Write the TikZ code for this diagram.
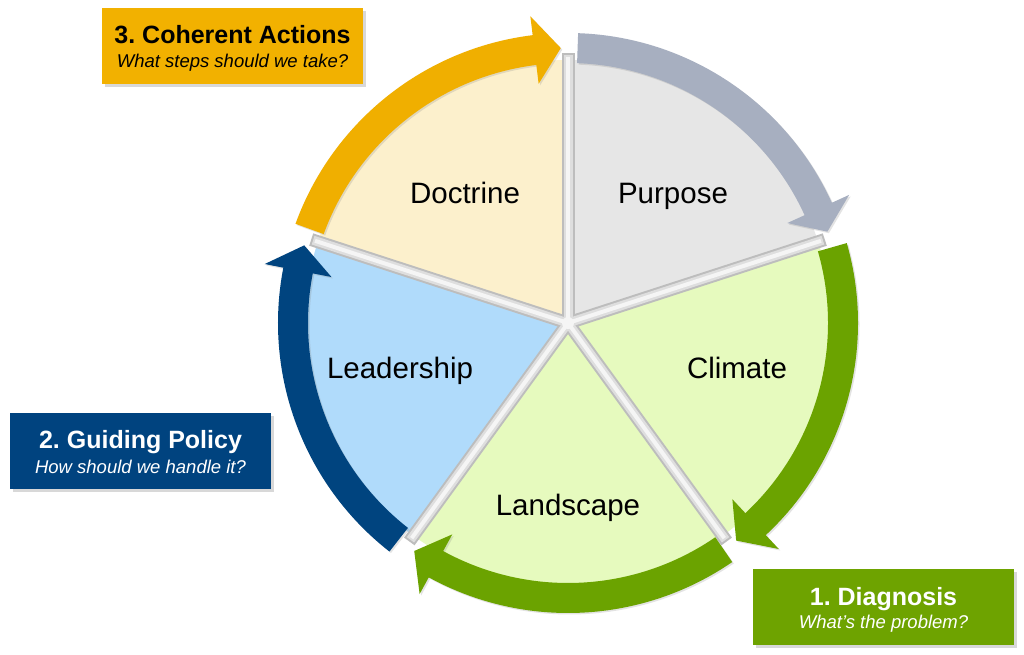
\documentclass[tikz,border=0pt]{standalone}
\usepackage{fontspec}
\setmainfont{Liberation Sans}
\usetikzlibrary{shadows}
\frenchspacing
\definecolor{doctfill}{HTML}{FCF0CC}
\definecolor{purpfill}{HTML}{E6E6E6}
\definecolor{greenfill}{HTML}{E6FABE}
\definecolor{bluefill}{HTML}{B0DBFB}
\definecolor{arcorange}{HTML}{F0AF00}
\definecolor{arcgray}{HTML}{A7AFC0}
\definecolor{arcgreen}{HTML}{6BA300}
\definecolor{arcblue}{HTML}{00447F}
\definecolor{boxorange}{HTML}{F2B100}
\definecolor{boxblue}{HTML}{00437F}
\definecolor{boxgreen}{HTML}{6EA300}
\definecolor{spokeedge}{HTML}{BDBDBD}
\definecolor{spokemid}{HTML}{DEDEDE}
\definecolor{spokelight}{HTML}{F5F5F5}
\newcommand\cyclearrow[4]{%
  \fill[#1] (#2:290) arc[start angle=#2, end angle=#3, radius=290]
    -- (#3:309) -- (#4:275) -- (#3:241) -- (#3:260)
    arc[start angle=#3, end angle=#2, radius=260] -- cycle;}
\tikzset{
  arcshadow/.style={drop shadow={opacity=0.22, shadow xshift=1.5pt, shadow yshift=-1.5pt}},
  labelbox/.style={inner sep=0pt, minimum width=261pt, minimum height=76pt, anchor=north west,
    drop shadow={opacity=0.3, shadow xshift=2.5pt, shadow yshift=-2.5pt}},
  boxtitle/.style={anchor=base, inner sep=0pt, font=\fontsize{25}{30}\selectfont\bfseries},
  boxsub/.style={anchor=base, inner sep=0pt, font=\fontsize{18.5}{22}\selectfont\itshape},
  pielabel/.style={anchor=base, inner sep=0pt, font=\fontsize{29.5}{35}\selectfont},
  spokeout/.style={draw=spokeedge, line width=13pt},
  spokein/.style={draw=spokemid, line width=9pt},
  spokecore/.style={draw=spokelight, line width=4pt}
}
\begin{document}
\begin{tikzpicture}[x=1pt,y=1pt]
\useasboundingbox (0,0) rectangle (1024,-655);
\fill[white] (0,0) rectangle (1024,-655);
\coordinate (C) at (568,-323);
\begin{scope}[shift={(C)}]
  % wedges
  \fill[doctfill] (0,0) -- (162:263) arc[start angle=162, end angle=90, radius=263] -- cycle;
  \fill[purpfill] (0,0) -- (90:263) arc[start angle=90, end angle=18, radius=263] -- cycle;
  \fill[greenfill] (0,0) -- (18:263) arc[start angle=18, end angle=-54, radius=263] -- cycle;
  \fill[greenfill] (0,0) -- (-54:263) arc[start angle=-54, end angle=-126, radius=263] -- cycle;
  \fill[bluefill] (0,0) -- (-126:263) arc[start angle=-126, end angle=-198, radius=263] -- cycle;
  % spokes
  \foreach \a in {90,18,-54,-126,162} {\draw[spokeout] (0,0) -- (\a:270);}
  \foreach \a in {90,18,-54,-126,162} {\draw[spokein] (0,0) -- (\a:268);}
  \foreach \a in {90,18,-54,-126,162} {\draw[spokecore] (0,0) -- (\a:266);}
  \fill[spokelight] (0,0) circle (6pt);
  % arrows
  \cyclearrow{arcorange, arcshadow}{160}{97}{91.5}
  \cyclearrow{arcgray, arcshadow}{88}{24.5}{19.4}
  \cyclearrow{arcgreen, arcshadow}{16}{-47}{-52.3}
  \cyclearrow{arcgreen, arcshadow}{-55.5}{-118.7}{-124}
  \cyclearrow{arcblue, arcshadow}{232}{169}{163.6}
\end{scope}
% pie labels
\node[pielabel] (doctrine) at (465,-203) {Doctrine};
\node[pielabel] (purpose) at (673,-203) {Purpose};
\node[pielabel] (leadership) at (400,-378) {Leadership};
\node[pielabel] (climate) at (737,-378) {Climate};
\node[pielabel] (landscape) at (568,-515) {Landscape};
% label boxes
\node[labelbox, fill=boxorange] (actbox) at (102,-8) {};
\node[boxtitle] (acttitle) at (232.5,-44) {3. Coherent Actions};
\node[boxsub] (actsub) at (232.5,-68) {What steps should we take?};
\node[labelbox, fill=boxblue] (polbox) at (10,-413) {};
\node[boxtitle, text=white] (poltitle) at (140.5,-448) {2. Guiding Policy};
\node[boxsub, text=white] (polsub) at (140.5,-473) {How should we handle it?};
\node[labelbox, fill=boxgreen] (diagbox) at (753,-569) {};
\node[boxtitle, text=white] (diagtitle) at (883.5,-605) {1. Diagnosis};
\node[boxsub, text=white] (diagsub) at (883.5,-628) {What’s the problem?};
\end{tikzpicture}
\end{document}
